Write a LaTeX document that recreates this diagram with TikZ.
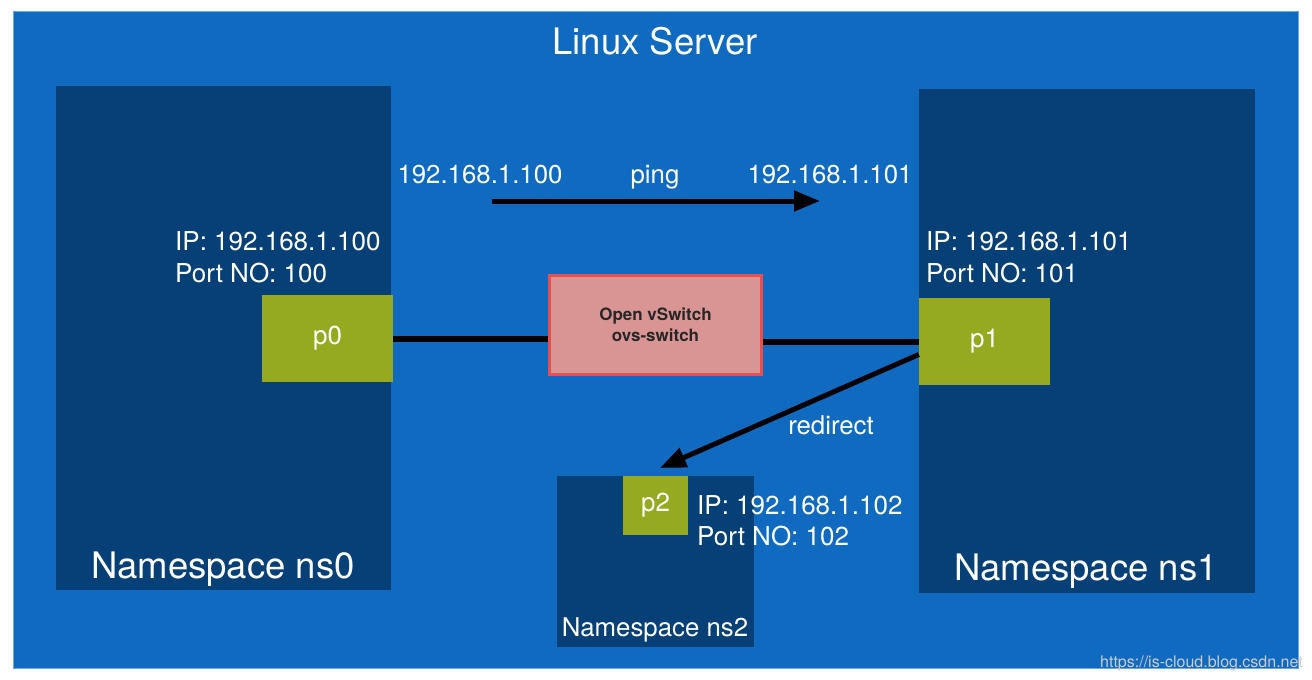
\documentclass[tikz,border=0pt]{standalone}
\usepackage{fontspec}
\setmainfont{TeX Gyre Heros}
\usepackage{xcolor}
\usepackage{tikz}
\usetikzlibrary{arrows.meta,positioning}

\definecolor{serverblue}{RGB}{16,106,192}
\definecolor{nsblue}{RGB}{6,64,118}
\definecolor{portgreen}{RGB}{149,169,33}
\definecolor{switchfill}{RGB}{217,149,148}
\definecolor{switchline}{RGB}{232,80,80}
\definecolor{markgray}{RGB}{205,205,205}

\begin{document}
\begin{tikzpicture}[x=1pt,y=-1pt,
    port/.style={fill=portgreen, text=white, inner sep=0pt, font=\fontsize{26}{30}\selectfont},
    info/.style={text=white, inner sep=0pt, anchor=base west, font=\fontsize{26}{31}\selectfont},
    caption/.style={text=white, inner sep=0pt, anchor=base, font=\fontsize{25.8}{31}\selectfont},
    nslabel/.style={text=white, inner sep=0pt, anchor=base, font=\fontsize{36.5}{42}\selectfont},
    link/.style={line width=6pt},
    flow/.style={line width=5pt, -{Triangle[length=26pt,width=20pt]}}]
    \useasboundingbox (0,0) rectangle (1312,680);

    % Server and namespaces
    \fill[serverblue, draw=serverblue!60!white, line width=1pt] (13,11) rectangle (1298,668);
    \fill[nsblue] (56,86) rectangle (391,590);
    \fill[nsblue] (919,89) rectangle (1255,593);
    \fill[nsblue] (557,476) rectangle (754,647);

    \node[text=white, inner sep=0pt, anchor=base, font=\fontsize{36.5}{42}\selectfont] (title) at (655,54) {Linux Server};
    \node[nslabel] (ns0) at (223,578) {Namespace ns0};
    \node[nslabel] (ns1) at (1086,580) {Namespace ns1};
    \node[caption] (ns2) at (655,636) {Namespace ns2};

    % Ports and switch
    \node[port, minimum width=131pt, minimum height=87pt] (p0) at (327.5,338.5) {p0};
    \node[port, minimum width=131pt, minimum height=87pt] (p1) at (984.5,341.5) {p1};
    \node[port, minimum width=65pt, minimum height=59pt] (p2) at (655.5,505.5) {p2};
    \node[fill=switchfill, draw=switchline, line width=3pt, minimum width=212pt, minimum height=99pt,
          align=center, text=black!85, font=\bfseries\fontsize{17}{21}\selectfont] (sw) at (655.5,325) {Open vSwitch\\ovs-switch};

    \draw[link] (p0.east) -- (p0.east -| sw.west);
    \draw[link] (sw.east |- p1.west) -- (p1.west);

    % Addresses
    \node[info] (ip0) at (175,250) {IP: 192.168.1.100};
    \node[info] (no0) at (175,282) {Port NO: 100};
    \node[info] (ip1) at (926,250) {IP: 192.168.1.101};
    \node[info] (no1) at (926,282) {Port NO: 101};
    \node[info] (ip2) at (697,514) {IP: 192.168.1.102};
    \node[info] (no2) at (697,545) {Port NO: 102};

    % Ping and redirect
    \node[caption] (src) at (480,183) {192.168.1.100};
    \node[caption] (ping) at (655,183) {ping};
    \node[caption] (dst) at (830,183) {192.168.1.101};
    \coordinate (pingfrom) at (492,201);
    \coordinate (pingto) at (820,201);
    \draw[flow] (pingfrom) -- (pingto);

    \node[caption] (redir) at (831,434) {redirect};
    \coordinate (redirto) at (660,468);
    \draw[flow] ([yshift=-13pt]p1.west) -- (redirto);

    \node[text=markgray, inner sep=0pt, anchor=base east, font=\fontsize{16}{18}\selectfont] (mark) at (1303,667) {https://is-cloud.blog.csdn.net};
\end{tikzpicture}
\end{document}
